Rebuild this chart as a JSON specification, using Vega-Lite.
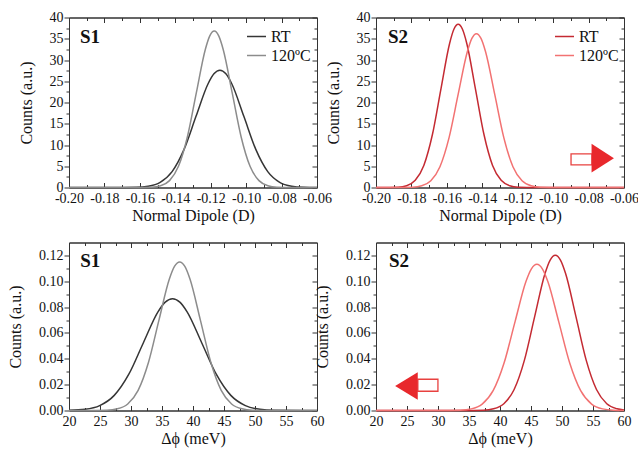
{
  "$schema": "https://vega.github.io/schema/vega-lite/v6.json",
  "background": "white",
  "padding": {"left": 7, "top": 9.5, "right": 5, "bottom": 5},
  "bounds": "flush",
  "spacing": {"row": 55, "column": 59},
  "columns": 2,
  "config": {
    "font": "Liberation Serif",
    "view": {"stroke": "#333", "strokeWidth": 1},
    "axis": {"grid": false, "labelFont": "Liberation Serif", "labelFontSize": 14, "labelColor": "#111", "titleFont": "Liberation Serif", "titleFontSize": 16, "titleFontWeight": "normal", "titleColor": "#111", "domainColor": "#333", "tickColor": "#333", "labelFlush": false, "labelOverlap": false, "labelBound": false},
    "axisX": {"labelPadding": 9, "titlePadding": 0},
    "axisY": {"labelPadding": 1, "titlePadding": 15},
    "legend": {"padding": 0}
  },
  "datasets": {
    "p1": [
      {"series":"RT","value":-0.2,"counts":0},{"series":"RT","value":-0.17555,"counts":0.001},{"series":"RT","value":-0.16205,"counts":0.061},{"series":"RT","value":-0.1553,"counts":0.306},{"series":"RT","value":-0.14855,"counts":1.212},{"series":"RT","value":-0.1418,"counts":3.735},{"series":"RT","value":-0.13505,"counts":8.96},{"series":"RT","value":-0.1283,"counts":16.74},{"series":"RT","value":-0.12155,"counts":24.36},{"series":"RT","value":-0.11818,"counts":26.75},{"series":"RT","value":-0.1148,"counts":27.6},{"series":"RT","value":-0.11143,"counts":26.75},{"series":"RT","value":-0.10805,"counts":24.36},{"series":"RT","value":-0.1013,"counts":16.74},{"series":"RT","value":-0.09455,"counts":8.96},{"series":"RT","value":-0.0878,"counts":3.735},{"series":"RT","value":-0.08105,"counts":1.212},{"series":"RT","value":-0.0743,"counts":0.306},{"series":"RT","value":-0.06755,"counts":0.061},{"series":"RT","value":-0.06,"counts":0.007},
      {"series":"120ºC","value":-0.2,"counts":0},{"series":"120ºC","value":-0.16345,"counts":0.0015},{"series":"120ºC","value":-0.15335,"counts":0.081},{"series":"120ºC","value":-0.1483,"counts":0.409},{"series":"120ºC","value":-0.14325,"counts":1.616},{"series":"120ºC","value":-0.1382,"counts":4.98},{"series":"120ºC","value":-0.13315,"counts":11.95},{"series":"120ºC","value":-0.1281,"counts":22.32},{"series":"120ºC","value":-0.12305,"counts":32.48},{"series":"120ºC","value":-0.12053,"counts":35.67},{"series":"120ºC","value":-0.118,"counts":36.8},{"series":"120ºC","value":-0.11548,"counts":35.67},{"series":"120ºC","value":-0.11295,"counts":32.48},{"series":"120ºC","value":-0.1079,"counts":22.32},{"series":"120ºC","value":-0.10285,"counts":11.95},{"series":"120ºC","value":-0.0978,"counts":4.98},{"series":"120ºC","value":-0.09275,"counts":1.616},{"series":"120ºC","value":-0.0877,"counts":0.409},{"series":"120ºC","value":-0.08265,"counts":0.081},{"series":"120ºC","value":-0.07255,"counts":0.0015},{"series":"120ºC","value":-0.06,"counts":0}
    ],
    "p2": [
      {"series":"RT","value":-0.2,"counts":0},{"series":"RT","value":-0.19725,"counts":0.0015},{"series":"RT","value":-0.18755,"counts":0.084},{"series":"RT","value":-0.1827,"counts":0.426},{"series":"RT","value":-0.17785,"counts":1.687},{"series":"RT","value":-0.173,"counts":5.2},{"series":"RT","value":-0.16815,"counts":12.47},{"series":"RT","value":-0.1633,"counts":23.29},{"series":"RT","value":-0.15845,"counts":33.89},{"series":"RT","value":-0.15603,"counts":37.22},{"series":"RT","value":-0.1536,"counts":38.4},{"series":"RT","value":-0.15118,"counts":37.22},{"series":"RT","value":-0.14875,"counts":33.89},{"series":"RT","value":-0.1439,"counts":23.29},{"series":"RT","value":-0.13905,"counts":12.47},{"series":"RT","value":-0.1342,"counts":5.2},{"series":"RT","value":-0.12935,"counts":1.687},{"series":"RT","value":-0.1245,"counts":0.426},{"series":"RT","value":-0.11965,"counts":0.084},{"series":"RT","value":-0.10995,"counts":0.0015},{"series":"RT","value":-0.06,"counts":0},
      {"series":"120ºC","value":-0.2,"counts":0},{"series":"120ºC","value":-0.18965,"counts":0.0014},{"series":"120ºC","value":-0.17935,"counts":0.08},{"series":"120ºC","value":-0.1742,"counts":0.402},{"series":"120ºC","value":-0.16905,"counts":1.59},{"series":"120ºC","value":-0.1639,"counts":4.9},{"series":"120ºC","value":-0.15875,"counts":11.75},{"series":"120ºC","value":-0.1536,"counts":21.96},{"series":"120ºC","value":-0.14845,"counts":31.95},{"series":"120ºC","value":-0.14588,"counts":35.09},{"series":"120ºC","value":-0.1433,"counts":36.2},{"series":"120ºC","value":-0.14073,"counts":35.09},{"series":"120ºC","value":-0.13815,"counts":31.95},{"series":"120ºC","value":-0.133,"counts":21.96},{"series":"120ºC","value":-0.12785,"counts":11.75},{"series":"120ºC","value":-0.1227,"counts":4.9},{"series":"120ºC","value":-0.11755,"counts":1.59},{"series":"120ºC","value":-0.1124,"counts":0.402},{"series":"120ºC","value":-0.10725,"counts":0.08},{"series":"120ºC","value":-0.09695,"counts":0.0014},{"series":"120ºC","value":-0.06,"counts":0}
    ],
    "p3": [
      {"series":"RT","value":20,"counts":0.00016},{"series":"RT","value":22.6,"counts":0.00096},{"series":"RT","value":24.95,"counts":0.0038},{"series":"RT","value":27.3,"counts":0.01171},{"series":"RT","value":29.65,"counts":0.02808},{"series":"RT","value":32,"counts":0.05247},{"series":"RT","value":34.35,"counts":0.07634},{"series":"RT","value":35.525,"counts":0.08384},{"series":"RT","value":36.7,"counts":0.0865},{"series":"RT","value":37.875,"counts":0.08384},{"series":"RT","value":39.05,"counts":0.07634},{"series":"RT","value":41.4,"counts":0.05247},{"series":"RT","value":43.75,"counts":0.02808},{"series":"RT","value":46.1,"counts":0.01171},{"series":"RT","value":48.45,"counts":0.0038},{"series":"RT","value":50.8,"counts":0.00096},{"series":"RT","value":53.15,"counts":0.00019},{"series":"RT","value":57.85,"counts":0},{"series":"RT","value":60,"counts":0},
      {"series":"120ºC","value":20,"counts":0},{"series":"120ºC","value":22.775,"counts":0},{"series":"120ºC","value":26.125,"counts":0.00025},{"series":"120ºC","value":27.8,"counts":0.00128},{"series":"120ºC","value":29.475,"counts":0.00505},{"series":"120ºC","value":31.15,"counts":0.01556},{"series":"120ºC","value":32.825,"counts":0.03734},{"series":"120ºC","value":34.5,"counts":0.06975},{"series":"120ºC","value":36.175,"counts":0.10149},{"series":"120ºC","value":37.0125,"counts":0.11146},{"series":"120ºC","value":37.85,"counts":0.115},{"series":"120ºC","value":38.6875,"counts":0.11146},{"series":"120ºC","value":39.525,"counts":0.10149},{"series":"120ºC","value":41.2,"counts":0.06975},{"series":"120ºC","value":42.875,"counts":0.03734},{"series":"120ºC","value":44.55,"counts":0.01556},{"series":"120ºC","value":46.225,"counts":0.00505},{"series":"120ºC","value":47.9,"counts":0.00128},{"series":"120ºC","value":49.575,"counts":0.00025},{"series":"120ºC","value":52.925,"counts":0},{"series":"120ºC","value":60,"counts":0}
    ],
    "p4": [
      {"series":"RT","value":20,"counts":0},{"series":"RT","value":33.98,"counts":0},{"series":"RT","value":37.3,"counts":0.00026},{"series":"RT","value":38.96,"counts":0.00133},{"series":"RT","value":40.62,"counts":0.00528},{"series":"RT","value":42.28,"counts":0.01625},{"series":"RT","value":43.94,"counts":0.03899},{"series":"RT","value":45.6,"counts":0.07284},{"series":"RT","value":47.26,"counts":0.10599},{"series":"RT","value":48.09,"counts":0.1164},{"series":"RT","value":48.92,"counts":0.1201},{"series":"RT","value":49.75,"counts":0.1164},{"series":"RT","value":50.58,"counts":0.10599},{"series":"RT","value":52.24,"counts":0.07284},{"series":"RT","value":53.9,"counts":0.03899},{"series":"RT","value":55.56,"counts":0.01625},{"series":"RT","value":57.22,"counts":0.00528},{"series":"RT","value":58.88,"counts":0.00133},{"series":"RT","value":60,"counts":0.00046},
      {"series":"120ºC","value":20,"counts":0},{"series":"120ºC","value":30.065,"counts":0},{"series":"120ºC","value":33.595,"counts":0.00025},{"series":"120ºC","value":35.36,"counts":0.00126},{"series":"120ºC","value":37.125,"counts":0.00497},{"series":"120ºC","value":38.89,"counts":0.01531},{"series":"120ºC","value":40.655,"counts":0.03672},{"series":"120ºC","value":42.42,"counts":0.0686},{"series":"120ºC","value":44.185,"counts":0.09981},{"series":"120ºC","value":45.068,"counts":0.10962},{"series":"120ºC","value":45.95,"counts":0.1131},{"series":"120ºC","value":46.833,"counts":0.10962},{"series":"120ºC","value":47.715,"counts":0.09981},{"series":"120ºC","value":49.48,"counts":0.0686},{"series":"120ºC","value":51.245,"counts":0.03672},{"series":"120ºC","value":53.01,"counts":0.01531},{"series":"120ºC","value":54.775,"counts":0.00497},{"series":"120ºC","value":56.54,"counts":0.00126},{"series":"120ºC","value":58.305,"counts":0.00025},{"series":"120ºC","value":60,"counts":0.00004}
    ]
  },
  "concat": [
    {
      "width": 248, "height": 170,
      "data": {"name": "p1"},
      "layer": [
        {
          "mark": {"type": "line", "strokeWidth": 1.5, "interpolate": "monotone"},
          "encoding": {
            "x": {"field": "value", "type": "quantitative", "scale": {"domain": [-0.2, -0.06], "nice": false, "zero": false},
                  "axis": {"orient": "bottom", "title": "Normal Dipole (D)", "labelFont": "Liberation Serif", "titleFont": "Liberation Serif", "values": [-0.2,-0.19,-0.18,-0.17,-0.16,-0.15,-0.14,-0.13,-0.12,-0.11,-0.1,-0.09,-0.08,-0.07,-0.06],
                           "tickSize": {"condition": {"test": "abs(round(datum.value*100)) % 2 == 0", "value": -5}, "value": -3},
                           "labelExpr": "abs(round(datum.value*100)) % 2 == 0 ? replace(format(datum.value, '.2f'), '−', '-') : ''"}},
            "y": {"field": "counts", "type": "quantitative", "scale": {"domain": [0, 40], "nice": false},
                  "axis": {"orient": "left", "title": "Counts (a.u.)", "labelFont": "Liberation Serif", "titleFont": "Liberation Serif", "values": [0,2.5,5,7.5,10,12.5,15,17.5,20,22.5,25,27.5,30,32.5,35,37.5,40],
                           "tickSize": {"condition": {"test": "datum.value % 5 == 0", "value": 5}, "value": 3},
                           "labelExpr": "datum.value % 5 == 0 ? format(datum.value, 'd') : ''"}},
            "color": {"field": "series", "type": "nominal", "scale": {"domain": ["RT", "120ºC"], "range": ["#353535", "#8c8c8c"]},
                      "legend": {"orient": "none", "legendX": 177, "legendY": 8.5, "title": null, "symbolType": "stroke", "symbolStrokeWidth": 1.5, "symbolSize": 361, "labelFontSize": 16, "labelFont": "Liberation Serif", "labelColor": "#111", "rowPadding": 0, "labelOffset": 4}}
          }
        },
        {
          "mark": {"type": "line", "strokeOpacity": 0},
          "encoding": {
            "x": {"field": "value", "type": "quantitative", "axis": {"orient": "top", "title": null, "labels": false, "values": [-0.2,-0.19,-0.18,-0.17,-0.16,-0.15,-0.14,-0.13,-0.12,-0.11,-0.1,-0.09,-0.08,-0.07,-0.06], "tickSize": {"condition": {"test": "abs(round(datum.value*100)) % 2 == 0", "value": -5}, "value": -3}}},
            "y": {"field": "counts", "type": "quantitative", "axis": {"orient": "right", "title": null, "labels": false, "values": [0,2.5,5,7.5,10,12.5,15,17.5,20,22.5,25,27.5,30,32.5,35,37.5,40], "tickSize": {"condition": {"test": "datum.value % 5 == 0", "value": -5}, "value": -3}}},
            "detail": {"field": "series"}
          }
        },
        {
          "data": {"values": [{}]},
          "mark": {"type": "text", "align": "left", "baseline": "middle", "fontSize": 19, "fontWeight": "bold", "font": "Liberation Serif", "color": "#111"},
          "encoding": {"x": {"datum": -0.1938, "type": "quantitative", "axis": null}, "y": {"datum": 35.5, "type": "quantitative", "axis": null}, "text": {"value": "S1"}}
        }
      ],
      "resolve": {"axis": {"x": "independent", "y": "independent"}}
    },
    {
      "width": 248, "height": 170,
      "data": {"name": "p2"},
      "layer": [
        {
          "mark": {"type": "line", "strokeWidth": 1.5, "interpolate": "monotone"},
          "encoding": {
            "x": {"field": "value", "type": "quantitative", "scale": {"domain": [-0.2, -0.06], "nice": false, "zero": false},
                  "axis": {"orient": "bottom", "title": "Normal Dipole (D)", "labelFont": "Liberation Serif", "titleFont": "Liberation Serif", "values": [-0.2,-0.19,-0.18,-0.17,-0.16,-0.15,-0.14,-0.13,-0.12,-0.11,-0.1,-0.09,-0.08,-0.07,-0.06],
                           "tickSize": {"condition": {"test": "abs(round(datum.value*100)) % 2 == 0", "value": -5}, "value": -3},
                           "labelExpr": "abs(round(datum.value*100)) % 2 == 0 ? replace(format(datum.value, '.2f'), '−', '-') : ''"}},
            "y": {"field": "counts", "type": "quantitative", "scale": {"domain": [0, 40], "nice": false},
                  "axis": {"orient": "left", "title": "Counts (a.u.)", "labelFont": "Liberation Serif", "titleFont": "Liberation Serif", "values": [0,2.5,5,7.5,10,12.5,15,17.5,20,22.5,25,27.5,30,32.5,35,37.5,40],
                           "tickSize": {"condition": {"test": "datum.value % 5 == 0", "value": 5}, "value": 3},
                           "labelExpr": "datum.value % 5 == 0 ? format(datum.value, 'd') : ''"}},
            "color": {"field": "series", "type": "nominal", "scale": {"domain": ["RT", "120ºC"], "range": ["#c42a32", "#f27272"]},
                      "legend": {"orient": "none", "legendX": 178, "legendY": 8.5, "title": null, "symbolType": "stroke", "symbolStrokeWidth": 1.5, "symbolSize": 361, "labelFontSize": 16, "labelFont": "Liberation Serif", "labelColor": "#111", "rowPadding": 0, "labelOffset": 4}}
          }
        },
        {
          "mark": {"type": "line", "strokeOpacity": 0},
          "encoding": {
            "x": {"field": "value", "type": "quantitative", "axis": {"orient": "top", "title": null, "labels": false, "values": [-0.2,-0.19,-0.18,-0.17,-0.16,-0.15,-0.14,-0.13,-0.12,-0.11,-0.1,-0.09,-0.08,-0.07,-0.06], "tickSize": {"condition": {"test": "abs(round(datum.value*100)) % 2 == 0", "value": -5}, "value": -3}}},
            "y": {"field": "counts", "type": "quantitative", "axis": {"orient": "right", "title": null, "labels": false, "values": [0,2.5,5,7.5,10,12.5,15,17.5,20,22.5,25,27.5,30,32.5,35,37.5,40], "tickSize": {"condition": {"test": "datum.value % 5 == 0", "value": -5}, "value": -3}}},
            "detail": {"field": "series"}
          }
        },
        {
          "data": {"values": [{}]},
          "mark": {"type": "text", "align": "left", "baseline": "middle", "fontSize": 19, "fontWeight": "bold", "font": "Liberation Serif", "color": "#111"},
          "encoding": {"x": {"datum": -0.1932, "type": "quantitative", "axis": null}, "y": {"datum": 35.3, "type": "quantitative", "axis": null}, "text": {"value": "S2"}}
        },
        {
          "data": {"values": [{}]},
          "mark": {"type": "rect", "fill": "white", "stroke": "#e8413f", "strokeWidth": 1.3},
          "encoding": {"x": {"datum": -0.0899, "type": "quantitative", "axis": null}, "x2": {"datum": -0.0781}, "y": {"datum": 7.93, "type": "quantitative", "axis": null}, "y2": {"datum": 5.34}}
        },
        {
          "data": {"values": [{}]},
          "mark": {"type": "point", "shape": "M-0.78,-1L0.78,0L-0.78,1Z", "size": 824, "filled": true, "fill": "#e8282c", "opacity": 1, "strokeWidth": 0},
          "encoding": {"x": {"datum": -0.072, "type": "quantitative", "axis": null}, "y": {"datum": 6.9, "type": "quantitative", "axis": null}}
        }
      ],
      "resolve": {"axis": {"x": "independent", "y": "independent"}}
    },
    {
      "width": 248, "height": 168,
      "data": {"name": "p3"},
      "layer": [
        {
          "mark": {"type": "line", "strokeWidth": 1.5, "interpolate": "monotone"},
          "encoding": {
            "x": {"field": "value", "type": "quantitative", "scale": {"domain": [20, 60], "nice": false, "zero": false},
                  "axis": {"orient": "bottom", "title": "Δϕ (meV)", "labelFont": "Liberation Serif", "titleFont": "Liberation Serif", "values": [20,22.5,25,27.5,30,32.5,35,37.5,40,42.5,45,47.5,50,52.5,55,57.5,60],
                           "tickSize": {"condition": {"test": "datum.value % 5 == 0", "value": -5}, "value": -3},
                           "labelExpr": "datum.value % 5 == 0 ? format(datum.value, 'd') : ''"}},
            "y": {"field": "counts", "type": "quantitative", "scale": {"domain": [0, 0.13], "nice": false},
                  "axis": {"orient": "left", "title": "Counts (a.u.)", "labelFont": "Liberation Serif", "titleFont": "Liberation Serif", "values": [0,0.01,0.02,0.03,0.04,0.05,0.06,0.07,0.08,0.09,0.1,0.11,0.12],
                           "tickSize": {"condition": {"test": "round(datum.value*100) % 2 == 0", "value": 5}, "value": 3},
                           "labelExpr": "round(datum.value*100) % 2 == 0 ? format(datum.value, '.2f') : ''"}},
            "color": {"field": "series", "type": "nominal", "scale": {"domain": ["RT", "120ºC"], "range": ["#353535", "#8c8c8c"]}, "legend": null}
          }
        },
        {
          "mark": {"type": "line", "strokeOpacity": 0},
          "encoding": {
            "x": {"field": "value", "type": "quantitative", "axis": {"orient": "top", "title": null, "labels": false, "values": [20,22.5,25,27.5,30,32.5,35,37.5,40,42.5,45,47.5,50,52.5,55,57.5,60], "tickSize": {"condition": {"test": "datum.value % 5 == 0", "value": -5}, "value": -3}}},
            "y": {"field": "counts", "type": "quantitative", "axis": {"orient": "right", "title": null, "labels": false, "values": [0,0.01,0.02,0.03,0.04,0.05,0.06,0.07,0.08,0.09,0.1,0.11,0.12], "tickSize": {"condition": {"test": "round(datum.value*100) % 2 == 0", "value": -5}, "value": -3}}},
            "detail": {"field": "series"}
          }
        },
        {
          "data": {"values": [{}]},
          "mark": {"type": "text", "align": "left", "baseline": "middle", "fontSize": 19, "fontWeight": "bold", "font": "Liberation Serif", "color": "#111"},
          "encoding": {"x": {"datum": 21.8, "type": "quantitative", "axis": null}, "y": {"datum": 0.1153, "type": "quantitative", "axis": null}, "text": {"value": "S1"}}
        }
      ],
      "resolve": {"axis": {"x": "independent", "y": "independent"}}
    },
    {
      "width": 248, "height": 168,
      "data": {"name": "p4"},
      "layer": [
        {
          "mark": {"type": "line", "strokeWidth": 1.5, "interpolate": "monotone"},
          "encoding": {
            "x": {"field": "value", "type": "quantitative", "scale": {"domain": [20, 60], "nice": false, "zero": false},
                  "axis": {"orient": "bottom", "title": "Δϕ (meV)", "labelFont": "Liberation Serif", "titleFont": "Liberation Serif", "values": [20,22.5,25,27.5,30,32.5,35,37.5,40,42.5,45,47.5,50,52.5,55,57.5,60],
                           "tickSize": {"condition": {"test": "datum.value % 5 == 0", "value": -5}, "value": -3},
                           "labelExpr": "datum.value % 5 == 0 ? format(datum.value, 'd') : ''"}},
            "y": {"field": "counts", "type": "quantitative", "scale": {"domain": [0, 0.13], "nice": false},
                  "axis": {"orient": "left", "title": "Counts (a.u.)", "labelFont": "Liberation Serif", "titleFont": "Liberation Serif", "values": [0,0.01,0.02,0.03,0.04,0.05,0.06,0.07,0.08,0.09,0.1,0.11,0.12],
                           "tickSize": {"condition": {"test": "round(datum.value*100) % 2 == 0", "value": 5}, "value": 3},
                           "labelExpr": "round(datum.value*100) % 2 == 0 ? format(datum.value, '.2f') : ''"}},
            "color": {"field": "series", "type": "nominal", "scale": {"domain": ["RT", "120ºC"], "range": ["#c42a32", "#f27272"]}, "legend": null}
          }
        },
        {
          "mark": {"type": "line", "strokeOpacity": 0},
          "encoding": {
            "x": {"field": "value", "type": "quantitative", "axis": {"orient": "top", "title": null, "labels": false, "values": [20,22.5,25,27.5,30,32.5,35,37.5,40,42.5,45,47.5,50,52.5,55,57.5,60], "tickSize": {"condition": {"test": "datum.value % 5 == 0", "value": -5}, "value": -3}}},
            "y": {"field": "counts", "type": "quantitative", "axis": {"orient": "right", "title": null, "labels": false, "values": [0,0.01,0.02,0.03,0.04,0.05,0.06,0.07,0.08,0.09,0.1,0.11,0.12], "tickSize": {"condition": {"test": "round(datum.value*100) % 2 == 0", "value": -5}, "value": -3}}},
            "detail": {"field": "series"}
          }
        },
        {
          "data": {"values": [{}]},
          "mark": {"type": "text", "align": "left", "baseline": "middle", "fontSize": 19, "fontWeight": "bold", "font": "Liberation Serif", "color": "#111"},
          "encoding": {"x": {"datum": 22.1, "type": "quantitative", "axis": null}, "y": {"datum": 0.1153, "type": "quantitative", "axis": null}, "text": {"value": "S2"}}
        },
        {
          "data": {"values": [{}]},
          "mark": {"type": "rect", "fill": "white", "stroke": "#e8413f", "strokeWidth": 1.3},
          "encoding": {"x": {"datum": 26.75, "type": "quantitative", "axis": null}, "x2": {"datum": 29.99}, "y": {"datum": 0.0242, "type": "quantitative", "axis": null}, "y2": {"datum": 0.0149}}
        },
        {
          "data": {"values": [{}]},
          "mark": {"type": "point", "shape": "M0.82,-1L-0.82,0L0.82,1Z", "size": 762, "filled": true, "fill": "#e8282c", "opacity": 1, "strokeWidth": 0},
          "encoding": {"x": {"datum": 24.91, "type": "quantitative", "axis": null}, "y": {"datum": 0.019, "type": "quantitative", "axis": null}}
        }
      ],
      "resolve": {"axis": {"x": "independent", "y": "independent"}}
    }
  ],
  "resolve": {"scale": {"color": "independent", "x": "independent", "y": "independent"}, "legend": {"color": "independent"}}
}
